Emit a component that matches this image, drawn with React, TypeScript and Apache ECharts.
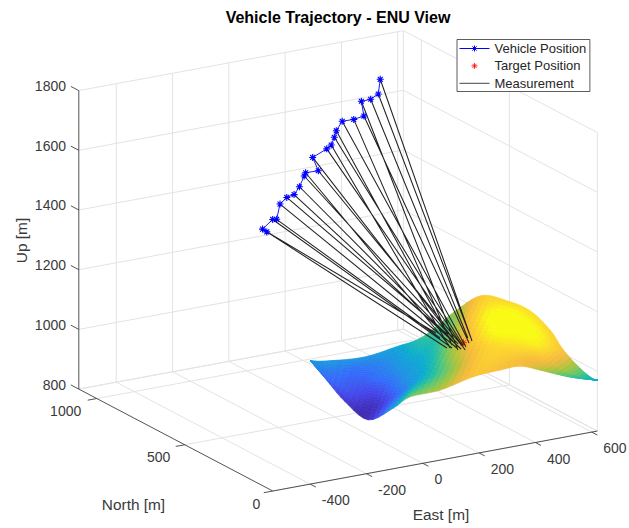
import React, { useEffect, useRef } from "react";
import * as echarts from "echarts";

const W = 629;
const H = 528;
const FONT = "'Liberation Sans', Arial, sans-serif";

const eastTicks = [-400, -200, 0, 200, 400, 600];
const northTicks = [0, 500, 1000];
const upTicks = [800, 1000, 1200, 1400, 1600, 1800];
const eastLimits = [-533, 620];
const northLimits = [0, 1102];
const upLimits = [800, 1800];

const vehicleEast = [71, 56, 92, 106, 118, 142, 168, 187, 204, 209, 254, 234, 284, 300, 311, 318, 339, 380, 416, 407, 440, 467, 474];
const vehicleNorth = [1000, 1000, 1000, 1000, 1000, 1000, 1000, 1000, 1000, 1000, 1000, 1000, 1000, 1000, 1000, 1000, 1000, 1000, 1000, 1000, 1000, 1000, 1000];
const vehicleUp = [1253, 1265, 1291, 1289, 1338, 1356, 1361, 1384, 1417, 1427, 1426, 1474, 1494, 1504, 1528, 1549, 1577, 1576, 1581, 1632, 1633, 1646, 1694];

const measureEast = [252, 298, 265, 284, 278, 322, 284, 303, 301, 272, 302, 320, 290, 260, 309, 337, 307, 280, 335, 271, 357, 365, 353];
const measureNorth = [266, 402, 258, 356, 251, 378, 237, 313, 282, 287, 260, 346, 223, 261, 266, 413, 246, 282, 273, 234, 315, 310, 285];
const measureUp = 1060;

const targetEast = [322];
const targetNorth = [284];
const targetUp = [1060];

const surfaceEast = [
  [39, 39, 39, 39, 39, 39],
  [50, 54, 64, 68, 72, 81],
  [49, 69, 107, 147, 181, 196],
  [29, 112, 161, 200, 259, 307],
  [-5, 156, 204, 267, 310, 358],
  [-16, 194, 285, 357, 444, 506],
  [47, 203, 279, 362, 442, 559],
  [142, 227, 304, 349, 417, 580],
  [256, 312, 356, 398, 462, 582],
  [328, 381, 397, 415, 466, 553],
  [410, 423, 435, 458, 480, 512],
  [511, 526, 517, 532, 548, 563],
  [599, 604, 606, 611, 613, 618],
  [649, 649, 649, 649, 649, 649],
];
const surfaceNorth = [
  [700, 700, 700, 700, 700, 700],
  [627, 634, 648, 655, 662, 677],
  [521, 532, 573, 616, 648, 652],
  [356, 457, 503, 533, 594, 640],
  [160, 384, 427, 493, 528, 571],
  [47, 330, 423, 485, 570, 616],
  [-23, 180, 254, 339, 420, 560],
  [-60, 37, 124, 158, 228, 452],
  [-30, 25, 63, 95, 163, 321],
  [-28, 22, 14, 9, 56, 161],
  [-11, -17, -24, -14, -5, 20],
  [-1, 8, -22, -12, -3, 7],
  [27, 28, 27, 28, 26, 27],
  [45, 45, 45, 45, 45, 45],
];
const surfaceUp = [
  [919, 919, 919, 919, 919, 919],
  [876, 886, 893, 902, 912, 919],
  [837, 860, 870, 879, 893, 919],
  [830, 833, 860, 893, 912, 939],
  [936, 886, 912, 929, 959, 985],
  [1011, 945, 959, 985, 1002, 1035],
  [1044, 1018, 1044, 1068, 1091, 1091],
  [1084, 1091, 1100, 1134, 1150, 1104],
  [1077, 1091, 1110, 1134, 1140, 1110],
  [1077, 1077, 1100, 1124, 1124, 1100],
  [1044, 1058, 1071, 1077, 1084, 1084],
  [1002, 1002, 1018, 1018, 1018, 1018],
  [969, 969, 969, 969, 969, 969],
  [952, 952, 952, 952, 952, 952],
];
const colorRange = [820, 1135];
const parula = [
  [62, 38, 168], [70, 67, 232], [52, 108, 250], [32, 146, 228], [11, 170, 210], [32, 190, 170],
  [100, 200, 110], [175, 195, 60], [245, 185, 60], [252, 212, 45], [249, 251, 20],
];

// Fixed orthographic view of the axes box (East, North, Up) onto the page.
const project = (e: number, n: number, u: number): number[] => [
  422.8 + 0.2815 * e - 0.176 * n,
  463.3 - 0.052 * e - 0.0925 * n - 0.2985 * (u - 800),
];

const parulaColor = (u: number) => {
  const t = Math.max(0, Math.min(1, (u - colorRange[0]) / (colorRange[1] - colorRange[0]))) * 10;
  const i = Math.min(9, Math.floor(t));
  const f = t - i;
  const c = parula[i].map((v, k) => Math.round(v + (parula[i + 1][k] - v) * f));
  return `rgb(${c[0]},${c[1]},${c[2]})`;
};

const GAP = [NaN, NaN];

const segments = (list: number[][][]) => {
  const out: number[][] = [];
  list.forEach(([a, b]) => {
    out.push(project(a[0], a[1], a[2]), project(b[0], b[1], b[2]), GAP);
  });
  return out;
};

const [E0, E1] = eastLimits;
const [N0, N1] = northLimits;
const [U0, U1] = upLimits;

const gridSegments = () => {
  const s: number[][][] = [];
  eastTicks.forEach((e) => {
    s.push([[e, N0, U0], [e, N1, U0]]);
    s.push([[e, N1, U0], [e, N1, U1]]);
  });
  northTicks.forEach((n) => {
    s.push([[E0, n, U0], [E1, n, U0]]);
    s.push([[E1, n, U0], [E1, n, U1]]);
  });
  upTicks.forEach((u) => {
    s.push([[E0, N1, u], [E1, N1, u]]);
    s.push([[E1, N0, u], [E1, N1, u]]);
  });
  s.push([[E1, N1, U0], [E1, N1, U1]]);
  s.push([[E0, N1, U0], [E1, N1, U0]]);
  s.push([[E1, N0, U0], [E1, N1, U0]]);
  return segments(s);
};

const axisSegments = () => {
  const s: number[][][] = [
    [[E0, N1, U0], [E0, N1, U1]],
    [[E0, N0, U0], [E1, N0, U0]],
    [[E0, N0, U0], [E0, N1, U0]],
  ];
  eastTicks.forEach((e) => s.push([[e, N0, U0], [e, N0 - 32, U0]]));
  northTicks.forEach((n) => s.push([[E0, n, U0], [E0 - 32, n, U0]]));
  upTicks.forEach((u) => s.push([[E0, N1, u], [E0, N1 + 45, u]]));
  return segments(s);
};

const tickText = (text: string, x: number, y: number, align: string) => ({
  type: "text",
  x,
  y,
  z: 50,
  silent: true,
  style: { text, fill: "#3a3a3a", font: `14px ${FONT}`, align, verticalAlign: "middle" },
});

const labelText = (text: string, x: number, y: number, rotation = 0) => ({
  type: "text",
  x,
  y,
  rotation,
  z: 50,
  silent: true,
  style: { text, fill: "#3a3a3a", font: `15.4px ${FONT}`, align: "center", verticalAlign: "middle" },
});

const STAR = "path://M5 0L5 10M0 5L10 5M1.5 1.5L8.5 8.5M8.5 1.5L1.5 8.5";
const LEGEND_VEHICLE = "path://M0 3L30 3M15 0L15 6M12 3L18 3M12.9 .9L17.1 5.1M17.1 .9L12.9 5.1";
const LEGEND_LINE = "path://M0 3L30 3L30 4L0 4Z";
const SUB = 5;

// Smooth (interpolated) shading between the surface's mesh values.
const spline = (a: number, b: number, c: number, d: number, f: number) =>
  0.5 * (2 * b + (c - a) * f + (2 * a - 5 * b + 4 * c - d) * f * f + (3 * b - a - 3 * c + d) * f * f * f);

const at = (m: number[][], c: number, r: number) =>
  m[Math.max(0, Math.min(m.length - 1, c))][Math.max(0, Math.min(m[0].length - 1, r))];

const meshValue = (m: number[][], c: number, r: number, fc: number, fr: number) => {
  const across = [-1, 0, 1, 2].map((k) =>
    spline(at(m, c + k, r - 1), at(m, c + k, r), at(m, c + k, r + 1), at(m, c + k, r + 2), fr),
  );
  return spline(across[0], across[1], across[2], across[3], fc);
};

export default function App() {
  const ref = useRef<HTMLDivElement>(null);
  useEffect(() => {
    if (!ref.current) return;
    const chart = echarts.init(ref.current, undefined, { renderer: "svg" });

    const cells: number[][] = [];
    for (let c = 0; c < surfaceUp.length - 1; c++) {
      for (let r = 0; r < surfaceUp[0].length - 1; r++) cells.push([c, r]);
    }

    const vertex = (c: number, r: number, fc: number, fr: number) => [
      meshValue(surfaceEast, c, r, fc, fr),
      meshValue(surfaceNorth, c, r, fc, fr),
      meshValue(surfaceUp, c, r, fc, fr),
    ];

    const renderSurface = (_p: any, api: any) => {
      const c = api.value(0);
      const r = api.value(1);
      const children: any[] = [];
      for (let i = 0; i < SUB; i++) {
        for (let j = 0; j < SUB; j++) {
          const corners = [
            vertex(c, r, i / SUB, j / SUB),
            vertex(c, r, (i + 1) / SUB, j / SUB),
            vertex(c, r, (i + 1) / SUB, (j + 1) / SUB),
            vertex(c, r, i / SUB, (j + 1) / SUB),
          ];
          const mid = vertex(c, r, (i + 0.5) / SUB, (j + 0.5) / SUB);
          const fill = parulaColor(mid[2]);
          children.push({
            type: "polygon",
            shape: { points: corners.map((v) => api.coord(project(v[0], v[1], v[2]))) },
            style: { fill, stroke: fill, lineWidth: 0.7 },
          });
        }
      }
      return { type: "group", children };
    };

    const lineBase = { type: "line", symbol: "none", silent: true, clip: false, connectNulls: false };

    const measurements: number[][] = [];
    vehicleEast.forEach((e, i) => {
      measurements.push(
        project(e, vehicleNorth[i], vehicleUp[i]),
        project(measureEast[i], measureNorth[i], measureUp),
        GAP,
      );
    });

    const eastLabels = eastTicks.map((e) => {
      const p = project(e, N0, U0);
      return tickText(String(e), p[0] + 11.6, p[1] + 16, "left");
    });
    const northLabels = northTicks.map((n) => {
      const p = project(E0, n, U0);
      const s = String(n);
      return tickText(s, p[0] - 11.5 - s.length, p[1] + 12.5, "right");
    });
    const upLabels = upTicks.map((u) => {
      const p = project(E0, N1, u);
      return tickText(String(u), 66, p[1] - 4.5, "right");
    });

    chart.setOption({
      animation: false,
      title: {
        text: "Vehicle Trajectory - ENU View",
        left: 338,
        top: 9.5,
        padding: 0,
        textAlign: "center",
        textStyle: { fontFamily: FONT, fontSize: 16, fontWeight: "bold", color: "#000" },
      },
      legend: {
        left: 457,
        top: 39.5,
        orient: "vertical",
        align: "left",
        selectedMode: false,
        padding: [2.5, 3.6, 1.7, 2],
        itemWidth: 30,
        itemHeight: 6,
        itemGap: 4.4,
        backgroundColor: "#fff",
        borderColor: "#333",
        borderWidth: 0.8,
        zlevel: 1,
        textStyle: { fontFamily: FONT, fontSize: 13, color: "#262626" },
        data: [
          {
            name: "Vehicle Position",
            icon: LEGEND_VEHICLE,
            itemStyle: { color: "transparent", borderColor: "#0000ff", borderWidth: 1 },
          },
          {
            name: "Target Position",
            icon: STAR,
            itemStyle: { color: "transparent", borderColor: "#ff0000", borderWidth: 1 },
          },
          {
            name: "Measurement",
            icon: LEGEND_LINE,
            itemStyle: { color: "#444", borderWidth: 0 },
          },
        ],
      },
      grid: { left: 0, right: 0, top: 0, bottom: 0 },
      xAxis: { type: "value", min: 0, max: W, show: false },
      yAxis: { type: "value", min: 0, max: H, inverse: true, show: false },
      graphic: [
        ...eastLabels,
        ...northLabels,
        ...upLabels,
        labelText("East [m]", 441, 514),
        labelText("North [m]", 133.5, 504),
        labelText("Up [m]", 21, 240.5, Math.PI / 2),
      ],
      series: [
        {
          ...lineBase,
          name: "grid",
          z: 1,
          data: gridSegments(),
          lineStyle: { color: "#e3e3e3", width: 1 },
        },
        {
          type: "custom",
          name: "surface",
          z: 2,
          silent: true,
          clip: false,
          coordinateSystem: "cartesian2d",
          encode: { x: 0, y: 1 },
          renderItem: renderSurface,
          data: cells,
        },
        {
          type: "scatter",
          name: "Target Position",
          z: 3,
          silent: true,
          clip: false,
          symbol: STAR,
          symbolSize: 7,
          itemStyle: { color: "transparent", borderColor: "#ff0000", borderWidth: 1 },
          data: targetEast.map((e, i) => project(e, targetNorth[i], targetUp[i])),
        },
        {
          ...lineBase,
          name: "Measurement",
          z: 4,
          data: measurements,
          itemStyle: { color: "#000" },
          lineStyle: { color: "#222", width: 1.05 },
        },
        {
          type: "line",
          name: "Vehicle Position",
          z: 5,
          silent: true,
          clip: false,
          symbol: STAR,
          symbolSize: 7,
          showSymbol: true,
          showAllSymbol: true,
          itemStyle: { color: "transparent", borderColor: "#0000ff", borderWidth: 1.1 },
          lineStyle: { color: "#0000ff", width: 0.9 },
          data: vehicleEast.map((e, i) => project(e, vehicleNorth[i], vehicleUp[i])),
        },
        {
          ...lineBase,
          name: "axes",
          z: 6,
          data: axisSegments(),
          lineStyle: { color: "#404040", width: 0.9 },
        },
      ],
    });
    return () => chart.dispose();
  }, []);
  return <div ref={ref} style={{ position: "absolute", left: 0, top: 0, width: W, height: H, background: "#fff" }} />;
}
